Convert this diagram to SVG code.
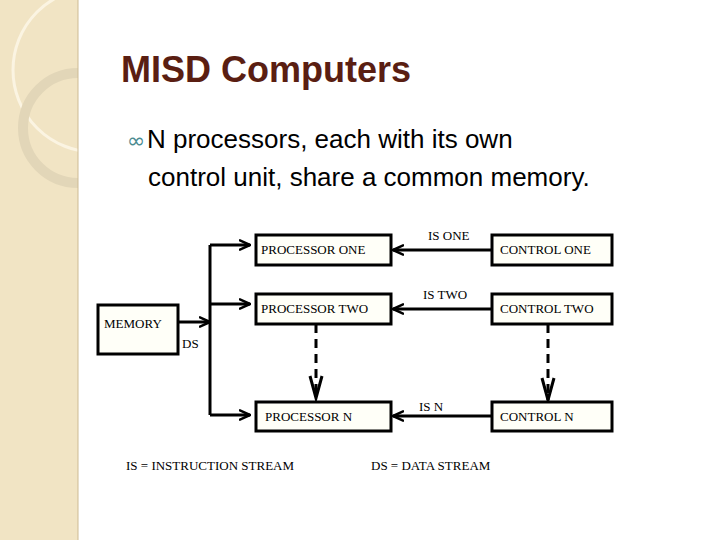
<svg xmlns="http://www.w3.org/2000/svg" width="720" height="540" viewBox="0 0 720 540">
<style>
.box{fill:#fffff8;stroke:#000;stroke-width:3}
.t{font-family:"Liberation Serif",serif;font-size:13px;fill:#000}
.ln{stroke:#000;stroke-width:3;fill:none}
.ds{stroke:#000;stroke-width:3;fill:none;stroke-dasharray:9,6}
</style>
<defs>
<marker id="a" viewBox="0 0 12 12" refX="11" refY="6" markerWidth="12" markerHeight="12" markerUnits="userSpaceOnUse" orient="auto">
<path d="M0,1 L11,6 L0,11" fill="none" stroke="#000" stroke-width="2.5"/>
</marker>
<clipPath id="band"><rect x="0" y="0" width="78" height="540"/></clipPath>
</defs>
<rect width="720" height="540" fill="#fff"/>
<rect x="0" y="0" width="78" height="540" fill="#f1e4c4"/>
<g clip-path="url(#band)">
<circle cx="95" cy="70" r="82" fill="none" stroke="#fbf4e2" stroke-width="3"/>
<circle cx="78" cy="128" r="55" fill="none" stroke="#e2d6b8" stroke-width="10"/>
</g>
<line x1="78" y1="0" x2="78" y2="540" stroke="#cdbb94" stroke-width="1"/>
<text x="121" y="82" font-family="Liberation Sans,sans-serif" font-size="36" font-weight="bold" fill="#5a1e12">MISD Computers</text>
<text x="127" y="148" font-family="DejaVu Sans,sans-serif" font-size="22" fill="#4a8a90">∞</text>
<text x="147" y="148" font-family="Liberation Sans,sans-serif" font-size="26" fill="#000">N processors, each with its own</text>
<text x="148" y="186" font-family="Liberation Sans,sans-serif" font-size="26" fill="#000">control unit, share a common memory.</text>
<g id="connectors">
<path class="ln" d="M178,322 H210" marker-end="url(#a)"/>
<path class="ln" d="M210,245 V415"/>
<path class="ln" d="M210,245 H250" marker-end="url(#a)"/>
<path class="ln" d="M210,304 H250" marker-end="url(#a)"/>
<path class="ln" d="M210,415 H250" marker-end="url(#a)"/>
<path class="ln" d="M491,250 H393" marker-end="url(#a)"/>
<path class="ln" d="M491,309 H393" marker-end="url(#a)"/>
<path class="ln" d="M491,416 H393" marker-end="url(#a)"/>
<path class="ds" d="M316,324 V398"/>
<path class="ln" d="M310,376 L316,398 L322,376"/>
<path class="ds" d="M548,324 V400"/>
<path class="ln" d="M542,378 L548,400 L554,378"/>
</g>
<g id="memory"><rect class="box" x="98" y="305" width="80" height="49"/><text class="t" x="104" y="328">MEMORY</text><text class="t" x="182" y="348">DS</text></g>
<g id="p1"><rect class="box" x="256" y="235" width="135" height="30"/><text class="t" x="261" y="254">PROCESSOR ONE</text></g>
<g id="p2"><rect class="box" x="256" y="294" width="135" height="30"/><text class="t" x="261" y="313">PROCESSOR TWO</text></g>
<g id="pn"><rect class="box" x="256" y="402" width="135" height="29"/><text class="t" x="265" y="421">PROCESSOR N</text></g>
<g id="c1"><rect class="box" x="492" y="235" width="120" height="30"/><text class="t" x="500" y="254">CONTROL ONE</text></g>
<g id="c2"><rect class="box" x="492" y="294" width="120" height="30"/><text class="t" x="500" y="313">CONTROL TWO</text></g>
<g id="cn"><rect class="box" x="492" y="402" width="120" height="29"/><text class="t" x="500" y="421">CONTROL N</text></g>
<text class="t" x="428" y="240">IS ONE</text>
<text class="t" x="423" y="299">IS TWO</text>
<text class="t" x="419" y="411">IS N</text>
<text class="t" x="126" y="470">IS = INSTRUCTION STREAM</text>
<text class="t" x="371" y="470">DS = DATA STREAM</text>
</svg>
